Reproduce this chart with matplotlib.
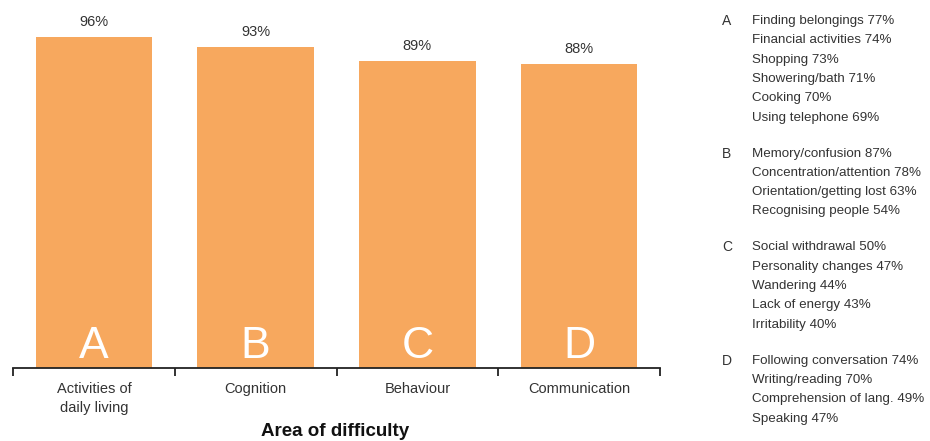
import matplotlib
matplotlib.use('Agg')
import matplotlib.pyplot as plt
from matplotlib.ticker import FixedLocator

plt.rcParams['font.family'] = ['Liberation Sans Narrow', 'Liberation Sans', 'DejaVu Sans']

letters = ['A', 'B', 'C', 'D']
areas = ['Activities of\ndaily living', 'Cognition', 'Behaviour', 'Communication']
values = [96, 93, 89, 88]

details_a = ['Finding belongings 77%', 'Financial activities 74%', 'Shopping 73%',
             'Showering/bath 71%', 'Cooking 70%', 'Using telephone 69%']
details_b = ['Memory/confusion 87%', 'Concentration/attention 78%',
             'Orientation/getting lost 63%', 'Recognising people 54%']
details_c = ['Social withdrawal 50%', 'Personality changes 47%', 'Wandering 44%',
             'Lack of energy 43%', 'Irritability 40%']
details_d = ['Following conversation 74%', 'Writing/reading 70%',
             'Comprehension of lang. 49%', 'Speaking 47%']
details = [details_a, details_b, details_c, details_d]

BAR_COLOR = '#F7A85E'
TEXT = '#333333'
W, H = 930, 441

fig = plt.figure(figsize=(9.3, 4.41), dpi=100)
ax = fig.add_axes([13 / W, 73 / H, 647 / W, 368 / H])

x = list(range(len(values)))
ax.bar(x, values, width=0.72, color=BAR_COLOR)
ax.set_xlim(-0.5, len(values) - 0.5)
ax.set_ylim(0, 106.7)

for xi, v, letter in zip(x, values, letters):
    ax.text(xi, v + 2.4, f'{v}%', ha='center', va='bottom', fontsize=10.5, color=TEXT)
    ax.text(xi, 2.9, letter, ha='center', va='baseline', fontsize=32, color='white')

for side in ['top', 'right', 'left']:
    ax.spines[side].set_visible(False)
ax.spines['bottom'].set_linewidth(1.3)
ax.spines['bottom'].set_color('#222222')
ax.set_yticks([])

ax.xaxis.set_major_locator(FixedLocator([i - 0.5 for i in range(len(values) + 1)]))
ax.xaxis.set_minor_locator(FixedLocator(x))
ax.set_xticklabels([])
ax.set_xticklabels(areas, minor=True, fontsize=10.5, color=TEXT, linespacing=1.5)
ax.tick_params(axis='x', which='major', length=6, width=1.3, color='#222222', direction='out')
ax.tick_params(axis='x', which='minor', length=0, pad=10)

fig.text(335 / W, 1 - 431 / H, 'Area of difficulty', ha='center', va='center',
         fontsize=13.5, fontweight='bold', color='#111111')

# side notes
line_h = 19.3
group_gap = 36
y = 21
for letter, lines in zip(letters, details):
    fig.text(722 / W, 1 - y / H, letter, ha='left', va='center', fontsize=10, color=TEXT)
    for i, line in enumerate(lines):
        fig.text(752 / W, 1 - y / H, line, ha='left', va='center', fontsize=9.6, color=TEXT)
        if i < len(lines) - 1:
            y += line_h
    y += group_gap

fig.savefig('out.png', dpi=100)
